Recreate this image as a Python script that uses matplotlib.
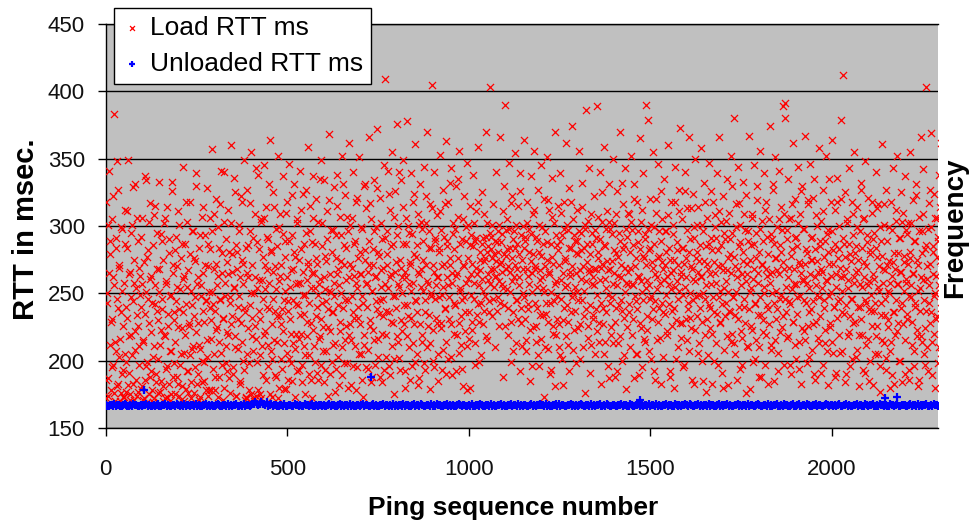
import numpy as np
import matplotlib
matplotlib.use("Agg")
import matplotlib.pyplot as plt

plt.rcParams['font.family'] = ['Liberation Sans', 'DejaVu Sans']

# Load RTT (ms) for even ping numbers
load_rtt = [
    318, 172, 250, 187, 341, 168, 279, 229, 195, 305, 262, 176, 383, 214, 291, 246, 181, 327, 203, 269, 170, 236, 298, 190,
    173, 258, 312, 205, 177, 284, 232, 349, 191, 266, 171, 219, 301, 244, 183, 275, 208, 331, 254, 174, 226, 289, 197, 263,
    179, 240, 306, 171, 215, 273, 186, 334, 251, 199, 282, 175, 228, 317, 263, 192, 243, 169, 308, 211, 256, 184, 295, 237,
    201, 333, 268, 177, 223, 289, 246, 181, 302, 218, 172, 259, 196, 314, 235, 280, 170, 207, 249, 326, 188, 271, 230, 175,
    214, 292, 255, 183, 311, 238, 197, 276, 171, 224, 344, 261, 206, 287, 179, 242, 303, 192, 267, 226, 318, 184, 252, 209,
    296, 233, 176, 274, 221, 339, 257, 190, 284, 212, 173, 248, 307, 200, 265, 229, 185, 293, 244, 328, 203, 270, 178, 239,
    283, 216, 357, 251, 194, 309, 237, 178, 272, 225, 299, 263, 188, 316, 245, 206, 280, 171, 232, 340, 258, 198, 290, 221,
    264, 312, 187, 243, 360, 227, 279, 195, 254, 336, 210, 286, 174, 268, 231, 301, 248, 183, 322, 275, 214, 257, 193, 349,
    236, 284, 205, 327, 262, 178, 296, 241, 355, 218, 271, 172, 250, 309, 226, 174, 288, 199, 338, 260, 175, 231, 303, 211,
    277, 189, 345, 253, 222, 314, 267, 196, 290, 238, 364, 207, 281, 173, 246, 325, 215, 270, 188, 298, 233, 352, 259, 180,
    309, 227, 271, 194, 337, 245, 213, 289, 179, 262, 318, 237, 201, 346, 255, 220, 293, 185, 268, 331, 209, 277, 242, 192,
    302, 258, 216, 341, 234, 283, 197, 266, 324, 211, 249, 175, 295, 229, 359, 270, 204, 315, 186, 254, 288, 223, 337, 265,
    199, 276, 320, 240, 186, 303, 257, 218, 349, 231, 285, 207, 262, 334, 193, 274, 244, 311, 225, 368, 252, 190, 297, 236,
    281, 212, 329, 248, 177, 293, 264, 338, 203, 256, 222, 307, 274, 189, 352, 239, 286, 215, 323, 260, 198, 296, 245, 362,
    227, 301, 182, 269, 340, 236, 287, 211, 318, 258, 195, 276, 232, 351, 264, 205, 299, 248, 173, 330, 219, 282, 257, 313,
    240, 194, 366, 271, 226, 305, 252, 188, 283, 334, 215, 262, 299, 238, 372, 203, 278, 245, 321, 267, 184, 290, 233, 345,
    257, 409, 219, 296, 271, 341, 236, 189, 312, 264, 355, 228, 287, 201, 326, 248, 273, 376, 214, 300, 255, 193, 334, 269,
    222, 287, 349, 241, 180, 306, 262, 378, 233, 295, 210, 271, 339, 252, 196, 318, 279, 227, 361, 244, 286, 205, 309, 264,
    187, 331, 255, 298, 219, 275, 344, 236, 193, 302, 259, 370, 226, 284, 213, 316, 250, 405, 271, 200, 340, 246, 291, 232,
    308, 262, 185, 281, 353, 224, 297, 249, 327, 208, 272, 239, 363, 190, 289, 256, 318, 231, 276, 203, 343, 265, 294, 220,
    283, 241, 330, 192, 265, 307, 228, 356, 254, 212, 290, 245, 181, 322, 270, 236, 299, 178, 347, 261, 216, 286, 315, 249,
    272, 223, 338, 258, 289, 197, 311, 264, 242, 359, 229, 281, 267, 204, 325, 252, 291, 237, 276, 370, 218, 302, 260, 285,
    244, 403, 268, 292, 233, 316, 255, 279, 210, 340, 263, 288, 247, 301, 226, 366, 273, 257, 294, 188, 330, 241, 390, 278,
    253, 305, 219, 347, 266, 284, 199, 322, 259, 236, 296, 271, 354, 213, 287, 245, 315, 262, 192, 339, 228, 275, 300, 250,
    364, 231, 289, 207, 318, 263, 242, 298, 185, 337, 274, 251, 309, 225, 356, 268, 214, 292, 239, 327, 196, 281, 260, 345,
    216, 299, 254, 173, 320, 270, 235, 351, 288, 209, 264, 312, 243, 193, 336, 277, 226, 302, 257, 370, 219, 286, 248, 315,
    271, 204, 339, 260, 293, 230, 182, 318, 255, 276, 362, 241, 297, 212, 328, 266, 284, 236, 374, 250, 305, 223, 289, 265,
    198, 312, 279, 245, 356, 227, 295, 261, 332, 210, 284, 252, 301, 386, 238, 273, 217, 343, 266, 191, 309, 257, 287, 234,
    322, 268, 205, 291, 389, 249, 276, 228, 340, 260, 183, 303, 272, 239, 359, 214, 285, 254, 311, 196, 267, 331, 243, 298,
    225, 274, 350, 257, 302, 188, 280, 239, 326, 263, 213, 295, 370, 245, 271, 200, 316, 286, 232, 343, 258, 179, 292, 266,
    309, 236, 281, 352, 219, 297, 256, 187, 331, 270, 244, 318, 205, 288, 262, 365, 228, 303, 251, 195, 339, 276, 214, 294,
    390, 260, 233, 379, 282, 246, 320, 201, 273, 355, 238, 299, 264, 186, 310, 253, 229, 346, 278, 217, 289, 326, 243, 268,
    203, 335, 271, 249, 296, 222, 360, 257, 284, 192, 318, 265, 237, 301, 180, 275, 344, 230, 288, 259, 210, 327, 252, 373,
    266, 228, 305, 284, 197, 340, 255, 276, 215, 313, 243, 366, 290, 232, 270, 186, 324, 261, 299, 223, 350, 248, 281, 206,
    314, 274, 239, 358, 262, 200, 296, 250, 332, 219, 285, 177, 306, 268, 241, 347, 224, 291, 257, 183, 318, 273, 236, 299,
    258, 213, 339, 282, 247, 366, 229, 303, 191, 271, 322, 254, 208, 290, 243, 335, 267, 182, 310, 236, 279, 352, 220, 295,
    247, 380, 270, 205, 316, 262, 231, 344, 285, 194, 301, 256, 217, 333, 274, 240, 297, 176, 323, 264, 210, 289, 367, 251,
    286, 226, 309, 199, 345, 268, 242, 295, 215, 330, 258, 188, 281, 356, 234, 304, 271, 221, 339, 250, 197, 318, 263, 292,
    238, 305, 264, 374, 212, 290, 250, 327, 185, 276, 351, 231, 299, 267, 206, 341, 286, 246, 314, 225, 389, 273, 197, 391,
    380, 255, 297, 218, 335, 269, 242, 306, 190, 283, 362, 229, 257, 320, 201, 292, 247, 344, 273, 214, 309, 265, 183, 330,
    261, 222, 298, 367, 243, 280, 198, 319, 254, 236, 346, 275, 208, 292, 227, 335, 262, 186, 308, 249, 274, 217, 358, 285,
    233, 304, 266, 197, 327, 245, 289, 213, 352, 259, 182, 297, 272, 228, 318, 251, 364, 206, 282, 240, 312, 264, 191, 336,
    276, 219, 300, 246, 379, 262, 207, 412, 287, 235, 325, 268, 190, 302, 254, 343, 221, 279, 246, 318, 201, 293, 262, 355,
    229, 285, 208, 314, 267, 181, 296, 240, 332, 255, 219, 305, 273, 191, 348, 243, 288, 216, 321, 259, 200, 279, 237, 310,
    264, 182, 295, 243, 340, 218, 277, 205, 316, 252, 177, 289, 234, 361, 268, 213, 301, 246, 193, 327, 271, 225, 299, 250,
    207, 318, 263, 189, 343, 236, 280, 219, 304, 257, 352, 228, 291, 200, 266, 325, 243, 184, 310, 273, 215, 337, 258, 294,
    231, 302, 186, 276, 355, 247, 212, 319, 265, 196, 289, 240, 331, 223, 271, 181, 307, 254, 366, 218, 296, 260, 342, 205,
    283, 237, 403, 270, 192, 317, 256, 228, 299, 369, 214, 285, 248, 324, 180, 263, 306, 233, 292, 210, 338, 274, 362, 250,
]

# Load RTT (ms) for odd ping numbers
load_rtt_odd = [
    186, 243, 301, 174, 265, 212, 289, 178, 231, 322, 197, 256, 170, 284, 207, 348, 239, 183, 271, 216, 299, 176, 252, 193,
    226, 173, 287, 240, 199, 311, 182, 264, 218, 175, 295, 247, 204, 329, 171, 258, 222, 186, 306, 234, 177, 269, 211, 249,
    292, 181, 257, 214, 172, 337, 235, 196, 277, 169, 246, 303, 188, 261, 221, 178, 286, 203, 172, 242, 315, 190, 268, 230,
    176, 251, 212, 294, 185, 238, 170, 275, 219, 306, 194, 257, 173, 226, 290, 183, 248, 207, 175, 333, 265, 198, 236, 282,
    244, 188, 270, 225, 174, 301, 253, 205, 181, 287, 236, 170, 263, 219, 318, 192, 255, 176, 228, 279, 204, 172, 296, 241,
    211, 276, 195, 247, 330, 183, 262, 228, 171, 293, 209, 256, 184, 314, 237, 199, 271, 178, 245, 215, 287, 174, 251, 306,
    230, 178, 296, 242, 205, 268, 188, 320, 223, 256, 173, 284, 214, 246, 341, 197, 265, 231, 180, 303, 248, 211, 273, 192,
    219, 281, 247, 176, 302, 233, 266, 190, 255, 218, 325, 174, 281, 240, 209, 296, 185, 262, 228, 318, 200, 272, 239, 171,
    172, 173, 265, 224, 286, 198, 317, 250, 175, 232, 291, 207, 170, 262, 343, 216, 254, 178, 283, 237, 204, 305, 172, 260,
    246, 306, 219, 271, 186, 240, 292, 212, 331, 258, 175, 282, 227, 201, 266, 314, 237, 189, 253, 285, 214, 172, 299, 233,
    263, 201, 238, 294, 222, 179, 277, 252, 310, 206, 244, 186, 289, 231, 267, 198, 323, 245, 213, 281, 173, 257, 220, 305,
    241, 275, 193, 258, 220, 312, 184, 249, 287, 235, 204, 327, 260, 218, 273, 190, 243, 296, 228, 172, 265, 306, 211, 254,
    287, 233, 191, 272, 249, 216, 335, 261, 197, 243, 302, 225, 184, 278, 253, 207, 290, 238, 174, 319, 264, 222, 251, 199,
    236, 297, 258, 213, 276, 194, 315, 241, 268, 182, 229, 293, 250, 210, 331, 271, 198, 245, 284, 226, 307, 180, 262, 219,
    272, 215, 248, 306, 196, 263, 232, 289, 178, 254, 321, 240, 205, 281, 227, 264, 186, 298, 243, 212, 275, 331, 195, 258,
    208, 266, 289, 230, 317, 184, 252, 271, 223, 296, 197, 244, 263, 328, 216, 281, 235, 188, 302, 255, 220, 269, 246, 193,
    291, 237, 203, 279, 254, 196, 324, 262, 229, 285, 211, 248, 307, 175, 266, 239, 293, 218, 257, 340, 202, 275, 230, 262,
    250, 314, 227, 266, 192, 287, 241, 218, 300, 257, 186, 273, 232, 294, 213, 258, 324, 245, 199, 277, 236, 266, 182, 301,
    227, 268, 303, 214, 252, 289, 198, 245, 322, 271, 210, 257, 296, 234, 179, 284, 248, 313, 223, 266, 195, 289, 256, 228,
    262, 205, 284, 247, 311, 228, 270, 193, 255, 292, 238, 316, 214, 262, 285, 201, 247, 332, 271, 227, 189, 258, 302, 243,
    241, 298, 263, 219, 276, 335, 206, 252, 287, 233, 194, 271, 305, 247, 222, 289, 258, 211, 276, 301, 236, 180, 264, 293,
    229, 285, 302, 246, 213, 269, 291, 234, 318, 256, 199, 275, 243, 287, 261, 227, 309, 274, 248, 292, 215, 281, 264, 236,
    295, 257, 283, 276, 301, 246, 268, 289, 262, 274, 237, 296, 281, 259, 272, 243, 288, 266, 311, 254, 279, 226, 297, 268,
    283, 239, 270, 298, 251, 317, 229, 276, 290, 207, 262, 284, 245, 301, 268, 231, 279, 256, 326, 239, 293, 211, 268, 284,
    247, 292, 215, 268, 302, 238, 281, 257, 223, 294, 265, 196, 279, 312, 243, 270, 226, 289, 255, 204, 301, 267, 234, 278,
    262, 234, 287, 251, 210, 296, 243, 275, 319, 229, 266, 190, 287, 251, 307, 220, 272, 244, 181, 293, 259, 231, 282, 210,
    227, 289, 246, 310, 201, 265, 298, 239, 274, 218, 256, 301, 229, 284, 192, 263, 318, 247, 270, 208, 293, 255, 237, 280,
    289, 251, 224, 296, 267, 201, 282, 314, 245, 270, 233, 298, 176, 259, 287, 226, 304, 268, 241, 279, 212, 295, 262, 231,
    256, 297, 238, 268, 222, 307, 281, 214, 290, 243, 269, 325, 227, 286, 205, 261, 298, 236, 274, 249, 187, 303, 268, 219,
    294, 247, 213, 282, 265, 229, 309, 256, 192, 277, 241, 289, 218, 262, 332, 237, 283, 204, 269, 251, 298, 225, 257, 310,
    242, 269, 210, 303, 257, 231, 286, 320, 248, 205, 276, 238, 296, 263, 189, 283, 224, 259, 312, 245, 278, 216, 290, 254,
    271, 223, 298, 256, 207, 284, 248, 301, 231, 269, 192, 287, 244, 320, 262, 215, 276, 239, 296, 258, 183, 273, 305, 236,
    260, 296, 235, 281, 219, 263, 308, 242, 188, 275, 253, 226, 294, 267, 239, 318, 255, 201, 282, 246, 271, 311, 228, 263,
    217, 284, 249, 195, 272, 326, 231, 262, 297, 238, 207, 281, 250, 313, 224, 268, 245, 291, 183, 259, 276, 233, 301, 266,
    249, 213, 286, 263, 229, 301, 185, 274, 246, 318, 256, 231, 272, 204, 287, 239, 264, 326, 220, 282, 247, 200, 265, 308,
    291, 235, 270, 197, 311, 252, 228, 286, 242, 267, 180, 295, 233, 259, 304, 218, 276, 251, 237, 290, 265, 214, 330, 247,
    213, 277, 234, 299, 251, 186, 268, 317, 240, 288, 222, 264, 197, 281, 246, 309, 228, 259, 272, 211, 296, 238, 179, 275,
    254, 306, 223, 261, 287, 201, 243, 276, 319, 234, 265, 210, 298, 247, 188, 272, 230, 289, 255, 312, 219, 268, 241, 183,
    279, 227, 258, 294, 208, 266, 331, 243, 287, 215, 252, 276, 238, 192, 305, 264, 221, 281, 249, 297, 233, 268, 309, 246,
    236, 290, 217, 262, 305, 244, 197, 278, 253, 316, 229, 268, 291, 212, 257, 285, 235, 302, 194, 271, 248, 326, 224, 259,
    298, 245, 272, 215, 283, 258, 316, 226, 203, 264, 291, 238, 275, 321, 244, 190, 283, 256, 229, 300, 266, 213, 247, 289,
    268, 191, 254, 311, 239, 277, 223, 260, 294, 207, 281, 248, 335, 225, 263, 296, 214, 272, 240, 188, 287, 255, 318, 232,
    244, 283, 206, 269, 320, 252, 236, 291, 263, 184, 277, 241, 305, 218, 260, 287, 233, 196, 274, 246, 309, 228, 258, 280,
    203, 266, 299, 240, 275, 219, 257, 327, 231, 284, 193, 262, 306, 245, 270, 212, 293, 256, 238, 185, 282, 249, 318, 226,
    290, 237, 261, 205, 284, 313, 226, 255, 270, 196, 299, 243, 215, 278, 258, 316, 234, 267, 202, 289, 252, 230, 274, 180,
    258, 214, 297, 273, 236, 183, 268, 245, 312, 222, 280, 257, 200, 291, 239, 266, 303, 227, 252, 278, 190, 261, 297, 235,
    272, 248, 193, 281, 256, 302, 229, 264, 207, 289, 243, 323, 218, 275, 252, 186, 296, 237, 262, 214, 280, 309, 245, 197,
    224, 286, 261, 210, 298, 243, 272, 327, 236, 189, 264, 281, 220, 306, 250, 231, 277, 198, 289, 256, 314, 239, 206, 268,
]

# Unloaded RTT, one value every 4 pings, each digit = RTT - 160 ms
unloaded_digits = (
    "7667768677667876676877667"
    "6778676676786677867667768"
    "7676867767768676677867676"
    "6787667768676778667686776"
    "7889878988796786776677686"
    "6776687767668776786676776"
    "7667867766786767768676677"
    "6786776678676677867767686"
    "7677686776678677687667768"
    "6768776677867676678767766"
    "7686677687667768676677867"
    "6677867768676776678676778"
    "7768676677868677667786767"
    "6787667768676778667687667"
    "7667786776687667786767768"
    "6776867667786776687676778"
    "7687667786767768677667867"
    "6778676677867677686776678"
    "7667768676778667687766786"
    "6786677687667786776678767"
    "7676786677867667786776687"
    "6778667687767668776786677"
    "7667867768676778667687766"
)
unloaded_step = 4
unloaded_base = 160
# a few stray unloaded pings
unloaded_extra_seq = [105, 730, 2145, 2180, 1470]
unloaded_extra_rtt = [178, 188, 172, 173, 171]

x_ticks = [0, 500, 1000, 1500, 2000]
y_ticks = [150, 200, 250, 300, 350, 400, 450]

load_seq = np.concatenate([np.arange(len(load_rtt)) * 2, np.arange(len(load_rtt_odd)) * 2 + 1])
load_all = np.concatenate([load_rtt, load_rtt_odd])
unl_rtt = np.array([unloaded_base + int(c) for c in unloaded_digits])
unl_seq = np.arange(len(unl_rtt)) * unloaded_step
unl_seq = np.concatenate([unl_seq, unloaded_extra_seq])
unl_rtt = np.concatenate([unl_rtt, unloaded_extra_rtt])

fig = plt.figure(figsize=(9.7, 5.26), dpi=100)
ax = fig.add_axes([105.7 / 970, 1 - 428 / 526, 832.3 / 970, 404 / 526])
ax.set_facecolor('#C0C0C0')

ax.scatter(load_seq, load_all, marker='x', s=26, linewidths=0.9, color='#FF0000',
           label='Load RTT ms', zorder=3)
ax.scatter(unl_seq, unl_rtt, marker='+', s=38, linewidths=1.6, color='#0000FF',
           label='Unloaded RTT ms', zorder=4)

ax.set_xlim(0, 2292)
ax.set_ylim(150, 450)
ax.set_xticks(x_ticks)
ax.set_yticks(y_ticks)
ax.yaxis.grid(True, color='black', linewidth=1.0)
ax.set_axisbelow(True)

ax.spines['right'].set_visible(False)
for side in ['left', 'bottom', 'top']:
    ax.spines[side].set_color('black')
    ax.spines[side].set_linewidth(1.0)

ax.tick_params(axis='both', direction='out', length=6, width=1, color='black',
               labelsize=16, labelcolor='#111111')
ax.tick_params(axis='x', pad=16)
ax.tick_params(axis='y', pad=9)

leg = ax.legend(loc='upper left', bbox_to_anchor=(0.01, 1.0396), borderaxespad=0,
                fontsize=19, frameon=True, fancybox=False, framealpha=1,
                edgecolor='black', handletextpad=0.25, borderpad=0.3,
                labelspacing=0.45, handlelength=0.8, scatterpoints=1,
                markerscale=0.7)
leg.get_frame().set_linewidth(1.0)
leg.set_zorder(10)

fig.text(0.529, 1 - 508 / 526, 'Ping sequence number', ha='center', va='center',
         fontsize=19, fontweight='bold')
fig.text(26 / 970, 1 - 229 / 526, 'RTT in msec.', ha='center', va='center',
         rotation=90, fontsize=21, fontweight='bold')
fig.text(955 / 970, 1 - 228 / 526, 'Frequency', ha='center', va='center',
         rotation=90, fontsize=20, fontweight='bold')

fig.savefig('out.png', dpi=100)
